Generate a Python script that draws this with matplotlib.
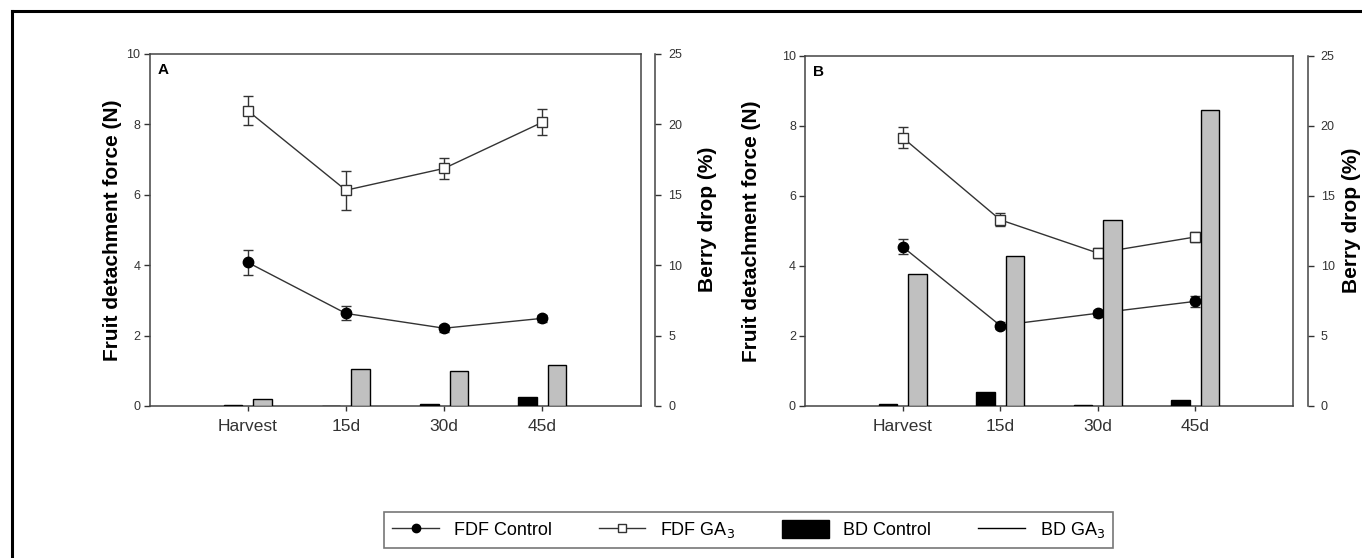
import numpy as np
import matplotlib
matplotlib.use("Agg")
import matplotlib.pyplot as plt
from matplotlib.lines import Line2D
from matplotlib.patches import Patch

plt.rcParams['font.family'] = ['Liberation Sans', 'DejaVu Sans']

# sampling times
times = ['Harvest', '15d', '30d', '45d']

# panel A: fruit detachment force (N) and berry drop (%)
fdf_ctrl_A = [4.08, 2.63, 2.21, 2.49]
fdf_ctrl_A_err = [0.35, 0.2, 0.1, 0.1]
fdf_ga3_A = [8.39, 6.13, 6.75, 8.06]
fdf_ga3_A_err = [0.41, 0.55, 0.3, 0.37]
bd_ctrl_A = [0.1, 0.0, 0.15, 0.64]
bd_ga3_A = [0.52, 2.63, 2.51, 2.89]

# panel B
fdf_ctrl_B = [4.55, 2.30, 2.65, 2.99]
fdf_ctrl_B_err = [0.22, 0.1, 0.1, 0.15]
fdf_ga3_B = [7.67, 5.32, 4.37, 4.83]
fdf_ga3_B_err = [0.31, 0.18, 0.15, 0.15]
bd_ctrl_B = [0.12, 1.02, 0.1, 0.43]
bd_ga3_B = [9.44, 10.73, 13.25, 21.15]

W, H = 1362, 558
fig = plt.figure(figsize=(W / 100, H / 100), dpi=100)

tickc = '#333333'
linec = '#333333'


def panel(rect, letter, ctrl, ctrl_err, ga3, ga3_err, bdc, bdg, lpad, rpad):
    ax = fig.add_axes(rect)
    x = np.arange(1, len(times) + 1)
    ax.errorbar(x, ctrl, yerr=ctrl_err, color=linec, lw=1, marker='o', ms=7.5,
                mfc='black', mec='black', capsize=3.5, elinewidth=1, ecolor=linec, zorder=3)
    ax.errorbar(x, ga3, yerr=ga3_err, color=linec, lw=1, marker='s', ms=7,
                mfc='white', mec=linec, mew=1, capsize=3.5, elinewidth=1, ecolor=linec, zorder=3)
    ax.set_xlim(0, 5)
    ax.set_ylim(0, 10)
    ax.set_yticks([0, 2, 4, 6, 8, 10])
    ax.set_xticks(x)
    ax.set_xticklabels(times, fontsize=12.5, color='#222222')
    ax.tick_params(axis='y', direction='out', length=4.5, width=1, colors=tickc, labelsize=9, pad=2)
    ax.tick_params(axis='x', direction='out', length=3.5, width=1, colors=tickc, pad=6)
    for s in ax.spines.values():
        s.set_color('#444444')
        s.set_linewidth(1.1)
    ax.set_ylabel('Fruit detachment force (N)', fontsize=15, fontweight='bold', labelpad=lpad)
    ax.text(0.016, 0.975, letter, transform=ax.transAxes, fontsize=11,
            fontweight='bold', ha='left', va='top')

    ax2 = ax.twinx()
    ax2.bar(x - 0.15, bdc, width=0.19, color='black', edgecolor='black', lw=1, zorder=2)
    ax2.bar(x + 0.15, bdg, width=0.19, color='#c0c0c0', edgecolor='black', lw=1, zorder=2)
    ax2.set_ylim(0, 25)
    ax2.set_yticks([0, 5, 10, 15, 20, 25])
    ax2.spines['right'].set_position(('outward', 10.5))
    for k in ['top', 'left', 'bottom']:
        ax2.spines[k].set_visible(False)
    ax2.spines['right'].set_color('#444444')
    ax2.spines['right'].set_linewidth(1.1)
    ax2.tick_params(axis='y', direction='out', length=4.5, width=1, colors=tickc, labelsize=9, pad=5)
    ax2.set_ylabel('Berry drop (%)', fontsize=15, fontweight='bold', labelpad=rpad)
    ax2.yaxis.label.set_y(0.53)
    return ax, ax2


panel([149.5 / W, 1 - 406 / H, 491 / W, 352 / H], 'A',
      fdf_ctrl_A, fdf_ctrl_A_err, fdf_ga3_A, fdf_ga3_A_err, bd_ctrl_A, bd_ga3_A, 3.5, 11)
panel([805 / W, 1 - 406 / H, 488 / W, 350 / H], 'B',
      fdf_ctrl_B, fdf_ctrl_B_err, fdf_ga3_B, fdf_ga3_B_err, bd_ctrl_B, bd_ga3_B, 15, 5.5)

# legend
handles = [
    Line2D([], [], color=linec, lw=1, marker='o', ms=6, mfc='black', mec='black'),
    Line2D([], [], color=linec, lw=1, marker='s', ms=6, mfc='white', mec=linec),
    Patch(facecolor='black', edgecolor='black'),
    Line2D([], [], color='black', lw=1),
]
labels = ['FDF Control', r'FDF GA$_3$', 'BD Control', r'BD GA$_3$']
leg = fig.legend(handles, labels, loc='center', bbox_to_anchor=(748.5 / W, 1 - 530 / H),
                 ncol=4, frameon=True, fancybox=False, edgecolor='#555555',
                 fontsize=13, handlelength=2.6, handleheight=1.2, columnspacing=2.6,
                 handletextpad=0.8, borderpad=0.45)
leg.get_frame().set_linewidth(1.2)

# outer frame
fig.add_artist(Line2D([12 / W, 12 / W], [0, 1 - 11 / H], transform=fig.transFigure,
                      color='black', lw=2.2))
fig.add_artist(Line2D([12 / W, 1], [1 - 11 / H, 1 - 11 / H], transform=fig.transFigure,
                      color='black', lw=2.2))

fig.savefig('out.png', dpi=100)
